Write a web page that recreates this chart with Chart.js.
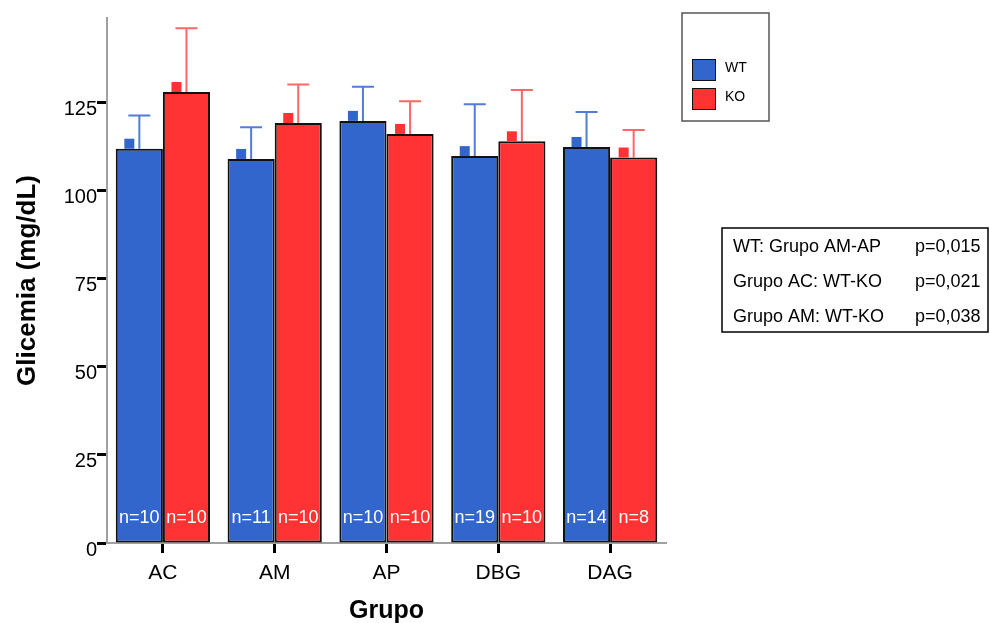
<!DOCTYPE html>
<html>
<head>
<meta charset="utf-8">
<script src="https://cdn.jsdelivr.net/npm/chart.js@4/dist/chart.umd.min.js"></script>
<style>
  html, body { margin: 0; padding: 0; background: #fff; }
</style>
</head>
<body>
<canvas id="glicemiaChart" width="990" height="623"></canvas>
<script>
// Datos
const grupos = ['AC', 'AM', 'AP', 'DBG', 'DAG'];
const mediaWT = [111.9, 109.0, 119.8, 109.8, 112.4];
const mediaKO = [128.0, 119.2, 116.1, 114.0, 109.4];
const errorWT = [9.4, 9.0, 9.7, 14.7, 9.9];
const errorKO = [18.1, 10.9, 9.3, 14.6, 7.8];
const nWT = [10, 11, 10, 19, 14];
const nKO = [10, 10, 10, 10, 8];
const comparaciones = ['WT: Grupo AM-AP', 'Grupo AC: WT-KO', 'Grupo AM: WT-KO'];
const valoresP = ['p=0,015', 'p=0,021', 'p=0,038'];

const AZUL = '#3366CC';
const ROJO = '#FF3333';
const FUENTE = "'Liberation Sans', Arial, sans-serif";

Chart.defaults.font.family = FUENTE;
Chart.defaults.color = '#000';

// Barras de error (solo hacia arriba), marcadores cuadrados y etiquetas n=
const extrasBarras = {
    id: 'extrasBarras',
    afterDatasetsDraw(chart) {
        const ctx = chart.ctx;
        const y = chart.scales.y;
        chart.data.datasets.forEach((ds, i) => {
            const meta = chart.getDatasetMeta(i);
            meta.data.forEach((bar, j) => {
                const top = y.getPixelForValue(ds.data[j] + ds.errores[j]);
                ctx.save();
                // barra de error
                ctx.strokeStyle = ds.colorError;
                ctx.lineWidth = 2;
                ctx.beginPath();
                ctx.moveTo(bar.x, bar.y);
                ctx.lineTo(bar.x, top);
                ctx.moveTo(bar.x - 11, top);
                ctx.lineTo(bar.x + 11, top);
                ctx.stroke();
                // marcador
                ctx.fillStyle = ds.backgroundColor;
                ctx.fillRect(bar.x - 15, bar.y - 10, 10, 10);
                // n=
                ctx.fillStyle = '#fff';
                ctx.font = '18px ' + FUENTE;
                ctx.textAlign = 'center';
                ctx.textBaseline = 'middle';
                ctx.fillText('n=' + ds.n[j], bar.x, bar.base - 24);
                ctx.restore();
            });
        });
    }
};

// Leyenda y recuadro de valores p
const cajas = {
    id: 'cajas',
    afterDraw(chart) {
        const ctx = chart.ctx;
        ctx.save();
        // leyenda
        ctx.strokeStyle = '#555';
        ctx.lineWidth = 1.5;
        ctx.strokeRect(682, 13, 87, 108);
        ctx.font = '14px ' + FUENTE;
        ctx.textAlign = 'left';
        ctx.textBaseline = 'middle';
        chart.data.datasets.forEach((ds, i) => {
            const yy = 59 + i * 29;
            ctx.fillStyle = ds.backgroundColor;
            ctx.fillRect(692, yy, 24, 22);
            ctx.strokeStyle = '#111';
            ctx.lineWidth = 1;
            ctx.strokeRect(692.5, yy + 0.5, 23, 21);
            ctx.fillStyle = '#000';
            ctx.fillText(ds.label, 725, yy + 9);
        });
        // valores p
        ctx.strokeStyle = '#000';
        ctx.lineWidth = 1.5;
        ctx.strokeRect(722, 228, 266, 104);
        ctx.font = '18px ' + FUENTE;
        ctx.fillStyle = '#000';
        comparaciones.forEach((txt, i) => {
            const yy = 247 + i * 35;
            ctx.fillText(txt, 733, yy);
            ctx.fillText(valoresP[i], 915, yy);
        });
        ctx.restore();
    }
};

new Chart(document.getElementById('glicemiaChart'), {
    type: 'bar',
    data: {
        labels: grupos,
        datasets: [
            {
                label: 'WT',
                data: mediaWT,
                errores: errorWT,
                n: nWT,
                backgroundColor: AZUL,
                colorError: 'rgba(51, 102, 204, 0.85)',
                borderColor: '#111',
                borderWidth: 2,
                borderSkipped: false,
                categoryPercentage: 0.843,
                barPercentage: 1.0
            },
            {
                label: 'KO',
                data: mediaKO,
                errores: errorKO,
                n: nKO,
                backgroundColor: ROJO,
                colorError: 'rgba(255, 51, 51, 0.75)',
                borderColor: '#111',
                borderWidth: 2,
                borderSkipped: false,
                categoryPercentage: 0.843,
                barPercentage: 1.0
            }
        ]
    },
    options: {
        responsive: false,
        animation: false,
        layout: { padding: { top: 18, right: 324, left: 0, bottom: 0 } },
        plugins: {
            legend: { display: false },
            tooltip: { enabled: false }
        },
        scales: {
            x: {
                grid: {
                    offset: false,
                    drawOnChartArea: false,
                    tickLength: 10,
                    tickWidth: 3,
                    tickColor: '#000'
                },
                border: { color: '#a0a0a0', width: 2 },
                ticks: { font: { size: 21 }, padding: 8, color: '#000' },
                title: {
                    display: true,
                    text: 'Grupo',
                    font: { size: 25, weight: 'bold' },
                    padding: { top: 0, bottom: -3 }
                },
                afterFit(scale) { scale.height = 80; }
            },
            y: {
                min: 0,
                max: 149,
                grid: {
                    drawOnChartArea: false,
                    tickLength: 10,
                    tickWidth: 3,
                    tickColor: '#000'
                },
                border: { color: '#a0a0a0', width: 2 },
                ticks: {
                    stepSize: 25,
                    includeBounds: false,
                    font: { size: 20 },
                    padding: 0,
                    labelOffset: 7,
                    color: '#000'
                },
                title: {
                    display: true,
                    text: 'Glicemia (mg/dL)',
                    font: { size: 26, weight: 'bold' },
                    padding: { top: 12, bottom: 0 }
                },
                afterFit(scale) { scale.width = 107; }
            }
        }
    },
    plugins: [extrasBarras, cajas]
});
</script>
</body>
</html>
